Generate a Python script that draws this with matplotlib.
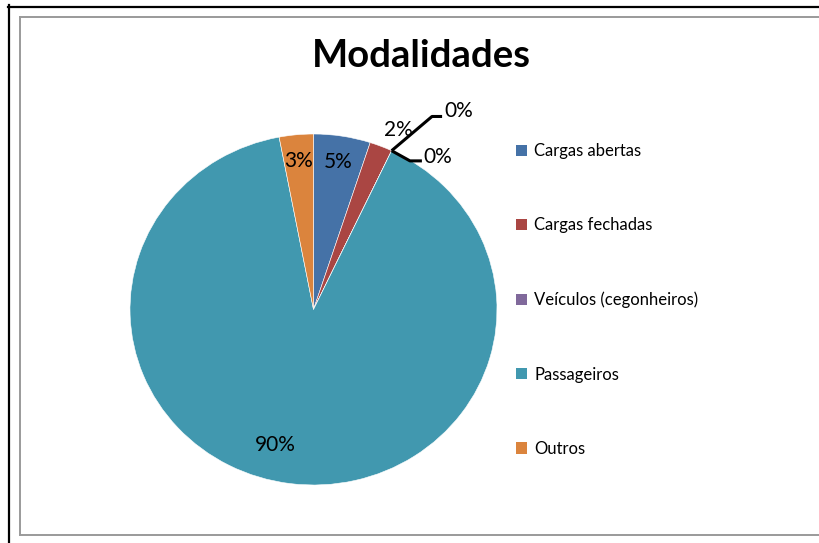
import numpy as np
import matplotlib
matplotlib.use("Agg")
import matplotlib.pyplot as plt
from matplotlib.lines import Line2D
from matplotlib.patches import Patch

plt.rcParams['font.family'] = ['Lato', 'DejaVu Sans']

title = "Modalidades"
categories = ["Cargas abertas", "Cargas fechadas", "Veículos (cegonheiros)", "",
              "Passageiros", "Outros"]
values = [5, 2, 0, 0, 90, 3]
pct_labels = ["5%", "2%", "0%", "0%", "90%", "3%"]
colors = ["#4572A7", "#AA4643", "#80699B", "#8DA0CB", "#4198AF", "#DB843D"]

W, H = 819, 543
fig = plt.figure(figsize=(W / 100, H / 100), dpi=100)

def fx(px):
    return px / W

def fy(py):
    return 1 - py / H

# frame lines (outer black, inner grey chart border)
fig.add_artist(Line2D([fx(8.5), fx(8.5)], [fy(5), fy(543)], color="black", lw=1.6))
fig.add_artist(Line2D([fx(8), fx(819)], [fy(6.5), fy(6.5)], color="black", lw=1.6))
for xs, ys in [([20, 20], [17, 535]), ([20, 819], [17, 17]), ([20, 819], [535, 535])]:
    fig.add_artist(Line2D([fx(x) for x in xs], [fy(y) for y in ys],
                          color="#9A9A9A", lw=1.4))

# pie axes placed on the pie's bounding box
left, right, top, bottom = 130, 497, 134, 485
ax = fig.add_axes([fx(left), fy(bottom), fx(right - left), (bottom - top) / H])
wedges, _ = ax.pie(values, colors=colors, startangle=90, counterclock=False,
                   wedgeprops=dict(linewidth=0.4, edgecolor="white"))
ax.set_aspect("auto")
ax.set_xlim(-1, 1)
ax.set_ylim(-1, 1)

def mid(w, r, shift=0):
    a = np.deg2rad((w.theta1 + w.theta2) / 2 + shift)
    return r * np.cos(a), r * np.sin(a)

fs = 15
# inside labels
for i, r, shift in [(0, 0.85, 0), (5, 0.85, 0), (4, 0.80, -8)]:
    x, y = mid(wedges[i], r, shift)
    ax.text(x, y, pct_labels[i], ha="center", va="center", fontsize=fs)
# outside label for the small red slice
x, y = mid(wedges[1], 1.12, -2.7)
ax.text(x, y, pct_labels[1], ha="center", va="center", fontsize=fs)

# zero slices with leader lines
a = np.deg2rad(wedges[2].theta1)
x0, y0 = np.cos(a), np.sin(a)
for i, (dx1, dy1, dx2, ty) in [(2, (0.22, 0.195, 0.055, 0.03)), (3, (0.10, -0.058, 0.065, 0.023))]:
    xs = [x0, x0 + dx1, x0 + dx1 + dx2]
    ys = [y0, y0 + dy1, y0 + dy1]
    ax.plot(xs, ys, color="black", lw=2.2, clip_on=False, solid_capstyle="butt")
    ax.text(xs[-1] + 0.01, ys[-1] + ty, pct_labels[i], ha="left", va="center", fontsize=fs)

fig.text(fx(421), fy(56), title, ha="center", va="center", fontsize=27.5, fontweight="bold")

handles = [Patch(facecolor=c, edgecolor="none") for c, n in zip(colors, categories) if n]
names = [n for n in categories if n]
fig.legend(handles, names, loc="upper left", bbox_to_anchor=(fx(516), fy(143)),
           frameon=False, fontsize=12, handlelength=0.65, handleheight=0.65,
           handletextpad=0.45, labelspacing=3.5, borderpad=0, borderaxespad=0)

fig.savefig("out.png", dpi=100, facecolor="white")
